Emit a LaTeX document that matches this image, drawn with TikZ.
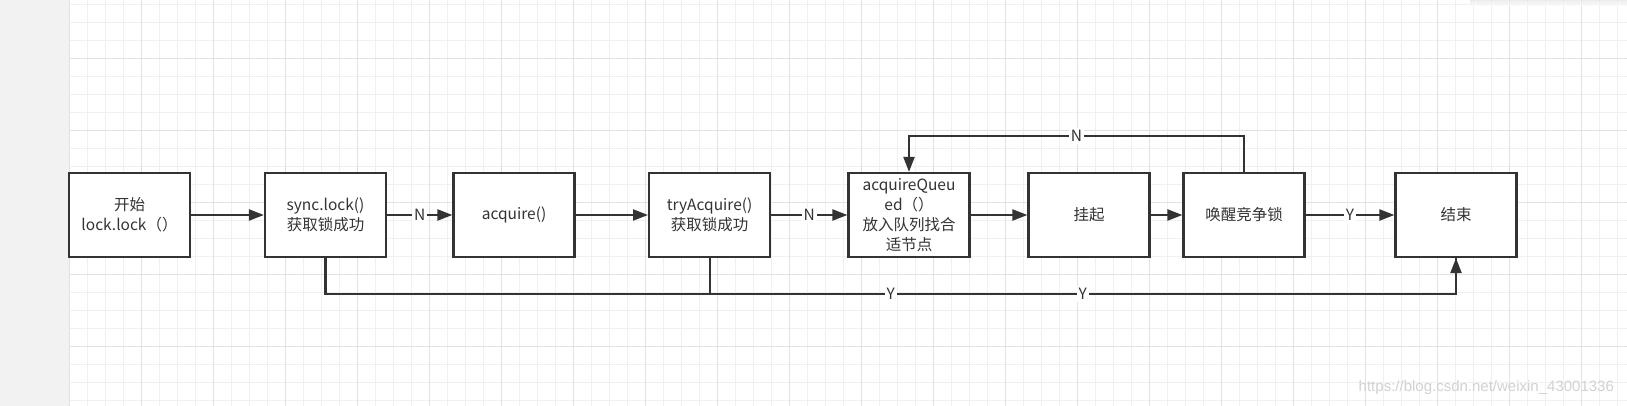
\documentclass[tikz,border=0pt]{standalone}
\usepackage{fontspec}
\newfontfamily\cjk{Noto Sans CJK SC}
\newfontfamily\wmfont{Liberation Sans}
\usetikzlibrary{arrows.meta}
\definecolor{boxline}{HTML}{333333}
\definecolor{textcol}{HTML}{333333}
\definecolor{panel}{HTML}{F2F2F2}
\definecolor{gridminor}{HTML}{F0F0F0}
\definecolor{gridmajor}{HTML}{E2E2E2}
\definecolor{wmark}{HTML}{D2D2D2}

\begin{document}
\begin{tikzpicture}[x=1pt, y=-1pt, >={Triangle[length=15pt, width=11pt]},
  every node/.style={draw=boxline, line width=2.2pt, fill=white, minimum width=121pt, minimum height=84pt, inner sep=0pt, align=center, text=textcol, font=\cjk\fontsize{15.5}{20}\selectfont},
  lbl/.style={draw=none, fill=white, minimum width=0pt, minimum height=0pt, inner sep=2pt}]
\useasboundingbox (0,0) rectangle (1627,406);
% canvas
\fill[white] (0,0) rectangle (1627,406);
\fill[panel] (0,0) rectangle (69.3,406);
\foreach \x in {87.3,105.3,...,1627} \draw[gridminor, line width=1pt] (\x,0) -- (\x,406);
\foreach \y in {4.3,22.3,...,406} \draw[gridminor, line width=1pt] (69.3,\y) -- (1627,\y);
\foreach \x in {69.3,141.3,...,1627} \draw[gridmajor, line width=1pt] (\x,0) -- (\x,406);
\foreach \y in {58.3,130.3,...,406} \draw[gridmajor, line width=1pt] (69.3,\y) -- (1627,\y);
\shade[top color=black!10, bottom color=white, opacity=0.7] (1470,0) rectangle (1627,6);
% steps
\node (F1N0) at (129.5,215) {开始\\lock.lock（）};
\node (F1N1) at (325.5,215) {sync.lock()\\获取锁成功};
\node (F1N2) at (514,215) {acquire()};
\node (F1N3) at (709.6,215) {tryAcquire()\\获取锁成功};
\node (F1N4) at (909,215) {acquireQueu\\ed（）\\放入队列找合\\适节点};
\node (F1N5) at (1089,215) {挂起};
\node (F1N6) at (1244,215) {唤醒竞争锁};
\node (F1N7) at (1456,215) {结束};
\begin{scope}[draw=boxline, line width=2.2pt]
\draw[->] (F1N0) -- (F1N1);
\draw[->] (F1N1) -- (F1N2) node (m) [midway, lbl] {N};
\draw[->] (F1N2) -- (F1N3);
\draw[->] (F1N3) -- (F1N4) node (m) [midway, lbl] {N};
\draw[->] (F1N4) -- (F1N5);
\draw[->] (F1N5) -- (F1N6);
\draw[->] (F1N6) -- (F1N7) node (m) [midway, lbl] {Y};
\draw[->] (F1N6.north) -- ++(0,-36) -| node (m) [pos=0.25, lbl] {N} (F1N4.north);
\draw[->] (F1N1.south) -- ++(0,36) -| node (m) [pos=0.25, lbl] {Y} (F1N7.south)
          (F1N3.south) -- ++(0,36) -| node (m) [pos=0.25, lbl] {Y} (F1N7.south);
\end{scope}
\node[lbl, fill=none, text=wmark, font=\wmfont\fontsize{15}{18}\selectfont, anchor=east] (wm) at (1617,388) {https://blog.csdn.net/weixin\_43001336};
\end{tikzpicture}
\end{document}
